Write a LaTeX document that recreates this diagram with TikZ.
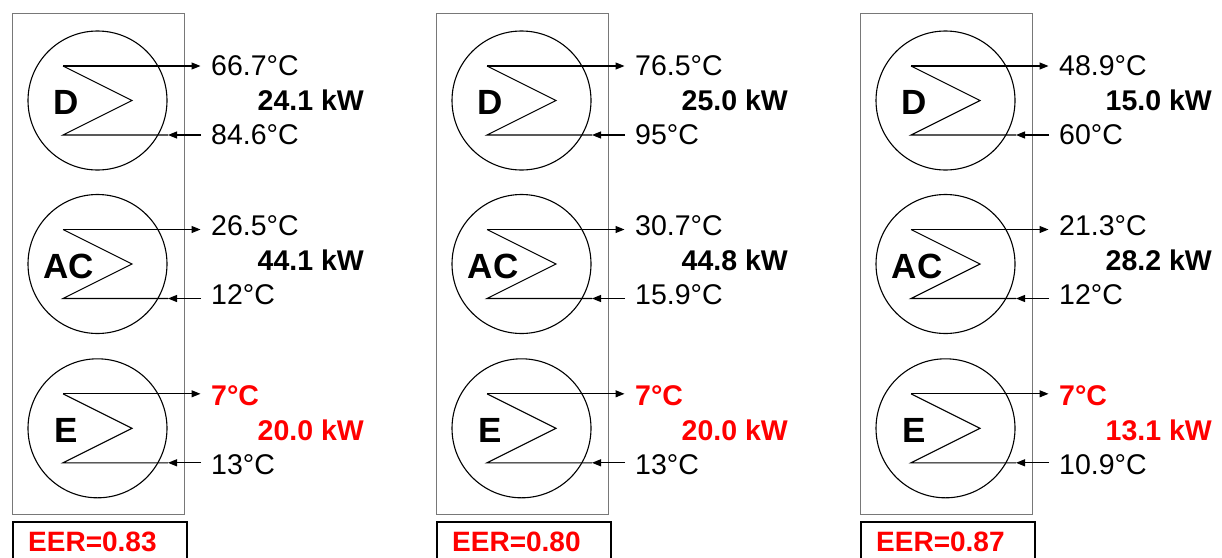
\documentclass[tikz,border=0pt]{standalone}
\usepackage{fontspec}
\setmainfont{Liberation Sans}
\usetikzlibrary{arrows.meta}
\definecolor{eerred}{RGB}{255,0,0}
\definecolor{panelgray}{RGB}{120,120,120}
\tikzset{
  hxline/.style={line width=1.1pt, black},
  flowarrow/.style={line width=1.1pt, -{Triangle[length=9pt,width=7pt]}},
  hxcircle/.style={circle, draw, line width=1.1pt, minimum size=139pt, inner sep=0pt},
  panelbox/.style={draw=panelgray, line width=1pt},
  eerbox/.style={draw=black, line width=2pt},
  templabel/.style={anchor=base west, inner sep=0pt, font=\fontsize{28.5}{30}\selectfont},
  kwlabel/.style={anchor=base east, inner sep=0pt, font=\fontsize{28.5}{30}\selectfont\bfseries},
  letterlabel/.style={anchor=base, inner sep=0pt, font=\fontsize{35}{38}\selectfont\bfseries},
  eerlabel/.style={anchor=base west, inner sep=0pt, text=eerred, font=\fontsize{28}{30}\selectfont\bfseries},
}
% #1 name, #2 dx, #3 cy, #4 letter, #5 letter x, #6 top temp, #7 kW, #8 bottom temp, #9 colour of top temp and kW
\newcommand{\hxunit}[9]{%
  \pgfmathsetmacro{\hxtop}{#3-34.5}%
  \pgfmathsetmacro{\hxbot}{#3+34.5}%
  \node[hxcircle] (#1-c) at (#2+97.5,#3) {};
  \coordinate (#1-tl) at (#2+63,\hxtop);
  \coordinate (#1-bl) at (#2+63,\hxbot);
  \coordinate (#1-tip) at (#2+132,#3);
  \coordinate (#1-out) at (#2+200.5,\hxtop);
  \coordinate (#1-in) at (#2+201,\hxbot);
  \coordinate (#1-mid) at (#2+168,\hxbot);
  \draw[hxline] (#1-mid) -- (#1-bl) -- (#1-tip) -- (#1-tl);
  \draw[flowarrow] (#1-tl) -- (#1-out);
  \draw[flowarrow] (#1-in) -- (#1-mid);
  \node[letterlabel] (#1-l) at (#2+#5,#3+14) {#4};
  \node[templabel, text=#9] (#1-tt) at (#2+211,\hxtop+9+\lsh) {#6};
  \node[kwlabel, text=#9] (#1-kw) at (#2+364,#3+9.5+\lsh) {#7};
  \node[templabel] (#1-bt) at (#2+211,\hxbot+9+\lsh) {#8};
}
\newcommand{\hxpanel}[2]{%
  \draw[panelbox] (#2+12,13) rectangle (#2+184,514);
  \draw[eerbox] (#2+13,570) -- (#2+13,522) -- (#2+187,522) -- (#2+187,570);
  \node[eerlabel] (#1-eer) at (#2+28,551.5) {EER=0.8#1};
}
\begin{document}
\begin{tikzpicture}[x=1pt,y=-1pt]
\useasboundingbox (0,0) rectangle (1222,557);
\fill[white] (0,0) rectangle (1222,557);
% panels
\hxpanel{3}{0}
\hxpanel{0}{424}
\hxpanel{7}{848}
% panel 1
\def\lsh{0}
\hxunit{d1}{0}{100.5}{D}{66}{66.7°C}{24.1 kW}{84.6°C}{black}
\def\lsh{-3.5}
\hxunit{a1}{0}{264}{AC}{69}{26.5°C}{44.1 kW}{12°C}{black}
\def\lsh{3}
\hxunit{e1}{0}{428.3}{E}{66.5}{\textbf{7°C}}{20.0 kW}{13°C}{eerred}
% panel 2
\def\lsh{0}
\hxunit{d2}{424}{100.5}{D}{66}{76.5°C}{25.0 kW}{95°C}{black}
\def\lsh{-3.5}
\hxunit{a2}{424}{264}{AC}{69}{30.7°C}{44.8 kW}{15.9°C}{black}
\def\lsh{3}
\hxunit{e2}{424}{428.3}{E}{66.5}{\textbf{7°C}}{20.0 kW}{13°C}{eerred}
% panel 3
\def\lsh{0}
\hxunit{d3}{848}{100.5}{D}{66}{48.9°C}{15.0 kW}{60°C}{black}
\def\lsh{-3.5}
\hxunit{a3}{848}{264}{AC}{69}{21.3°C}{28.2 kW}{12°C}{black}
\def\lsh{3}
\hxunit{e3}{848}{428.3}{E}{66.5}{\textbf{7°C}}{13.1 kW}{10.9°C}{eerred}
\end{tikzpicture}
\end{document}
